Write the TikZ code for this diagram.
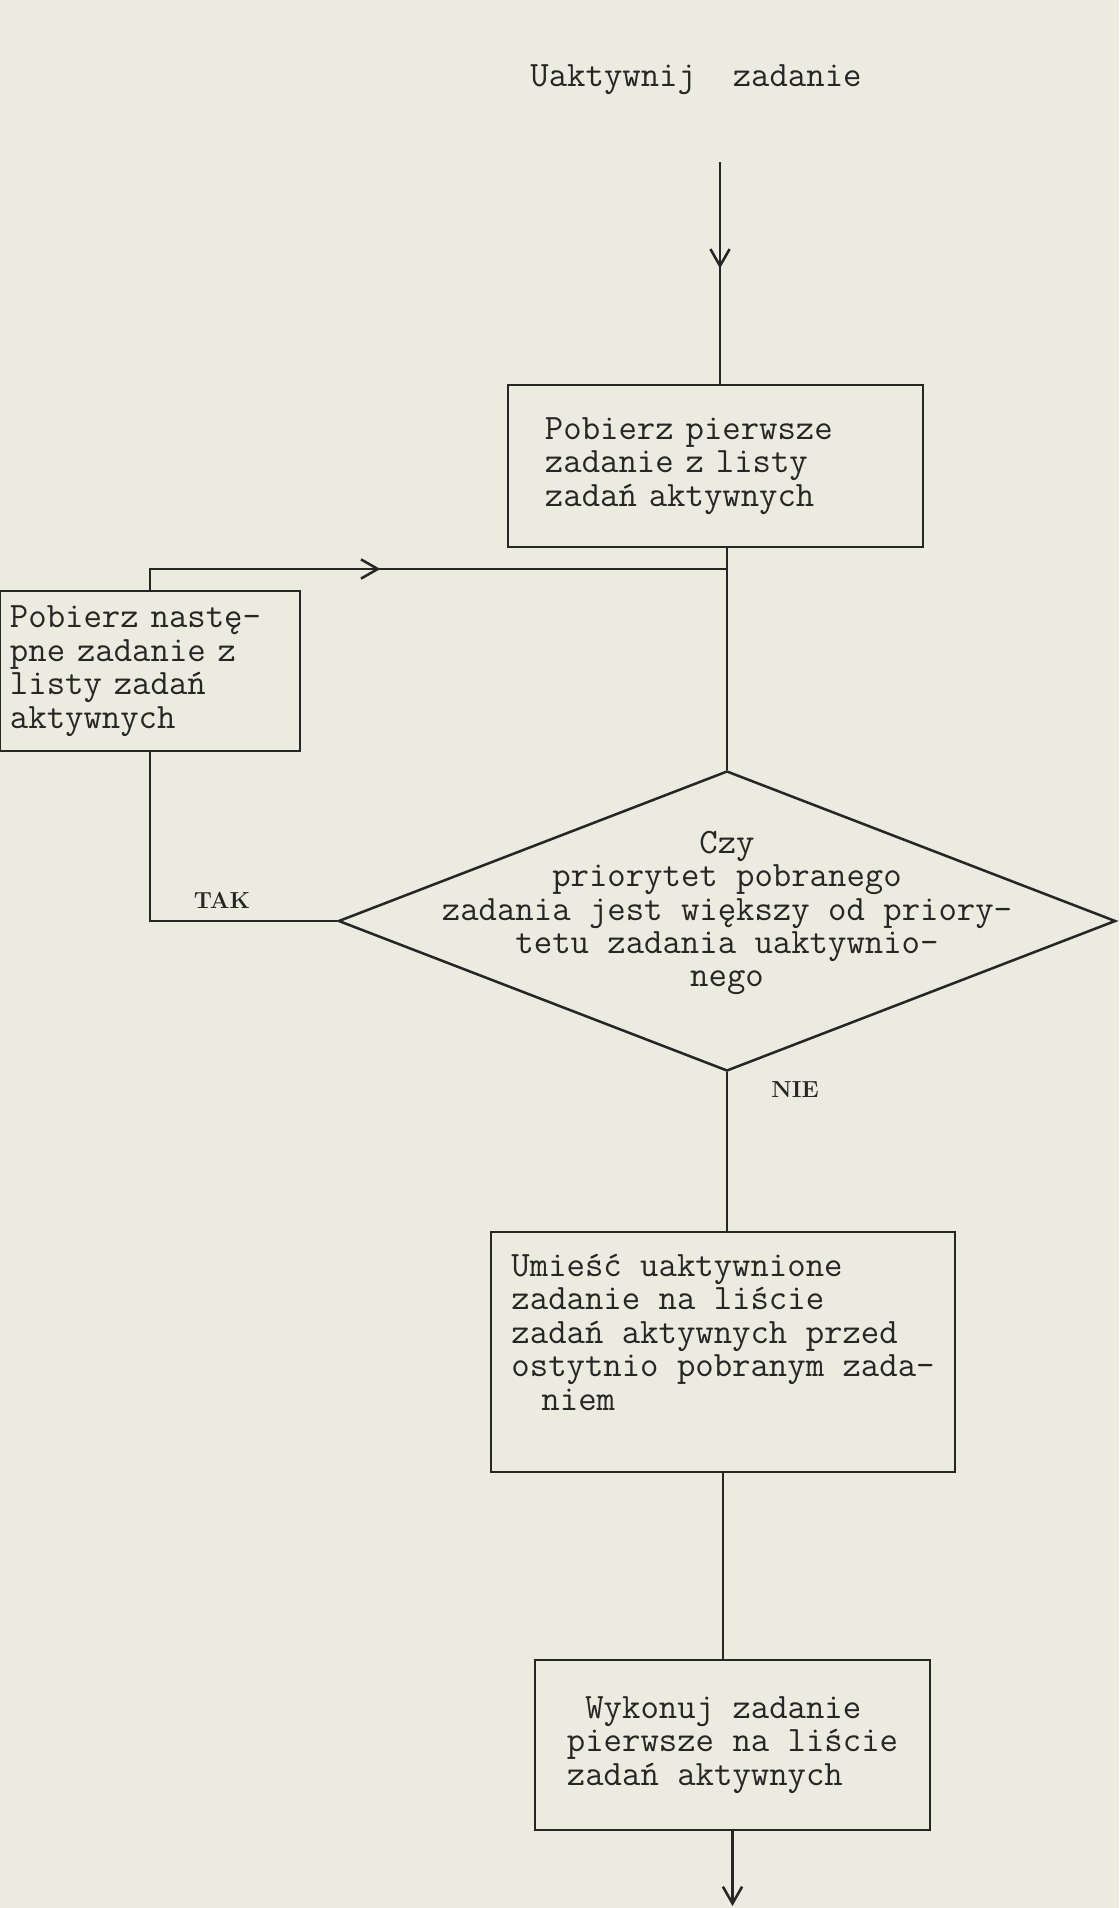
\documentclass[tikz,border=0pt]{standalone}
\usepackage{tikz}
\usetikzlibrary{shapes.geometric,arrows.meta,decorations.markings}
\setlength{\lineskiplimit}{-100pt}
\definecolor{paper}{RGB}{236,235,224}
\definecolor{ink}{RGB}{38,38,36}
\newcommand{\typefont}{\ttfamily\fontsize{25.4}{23.8}\selectfont}
\newcommand{\answerfont}{\rmfamily\bfseries\fontsize{16.5}{19}\selectfont}
\tikzset{
  flow/.style={draw=ink, line width=1.8pt},
  box/.style={draw=ink, line width=1.8pt, rectangle, font=\typefont, text=ink, align=left, inner sep=0pt},
  decision/.style={draw=ink, line width=1.8pt, diamond, inner sep=0pt, minimum width=19.425cm, minimum height=7.5cm},
  answer/.style={font=\answerfont, text=ink, inner sep=0pt},
  midarrow/.style={postaction={decorate}, decoration={markings, mark=at position #1 with {\arrow{Straight Barb[length=0.42cm,width=0.48cm]}}}}
}
\begin{document}
\begin{tikzpicture}[x=0.025cm, y=-0.025cm]
% Paper
\fill[paper] (0,0) rectangle (1119,1908);
\useasboundingbox (0,0) rectangle (1119,1908);

% Start text
\node[font=\typefont, text=ink] (title) at (696,80) {Uaktywnij~~zadanie};

% Boxes
\node[box, text width=8.525cm, inner xsep=0.925cm, minimum height=4.05cm] (first) at (715.5,466) {Pobierz pierwsze\\zadanie z listy\\zadań aktywnych};
\node[box, text width=7cm, inner xsep=0.25cm, minimum height=4cm] (next) at (150,671) {Pobierz nastę-\\pne zadanie z\\listy zadań\\aktywnych};
\node[box, minimum width=11.6cm, minimum height=6cm] (place) at (723,1352) {Umieść uaktywnione\\zadanie na liście\\zadań aktywnych przed\\ostytnio pobranym zada-\\\hspace*{0.75cm}niem\\[0.15cm]~};
\node[box, minimum width=9.875cm, minimum height=4.25cm] (run) at (732.5,1745) {~Wykonuj zadanie\\pierwsze na liście\\zadań aktywnych};

% Decision
\node[decision] (dec) at (727,921) {};
\node[font=\typefont, text=ink, align=center] (question) at (727,913) {Czy\\priorytet pobranego\\zadania jest większy od priory-\\tetu zadania uaktywnio-\\nego};
\node[answer] (tak) at (222,900) {TAK};
\node[answer] (nie) at (795,1090) {NIE};

% Connectors
\coordinate (entry) at (720,162);
\coordinate (join) at (dec.north |- 0,569);
\coordinate (exit) at (run.south |- 0,1906);
\draw[flow, midarrow=0.48] (entry) -- (entry |- first.north);
\draw[flow] (first.south -| dec.north) -- (dec.north);
\draw[flow, midarrow=0.42] (next.north) |- (join);
\draw[flow] (dec.west) -| (next.south);
\draw[flow] (dec.south) -- (dec.south |- place.north);
\draw[flow] (place.south) -- (place.south |- run.north);
\draw[flow, -{Straight Barb[length=0.42cm,width=0.48cm]}] (run.south) -- (exit);
\end{tikzpicture}
\end{document}
